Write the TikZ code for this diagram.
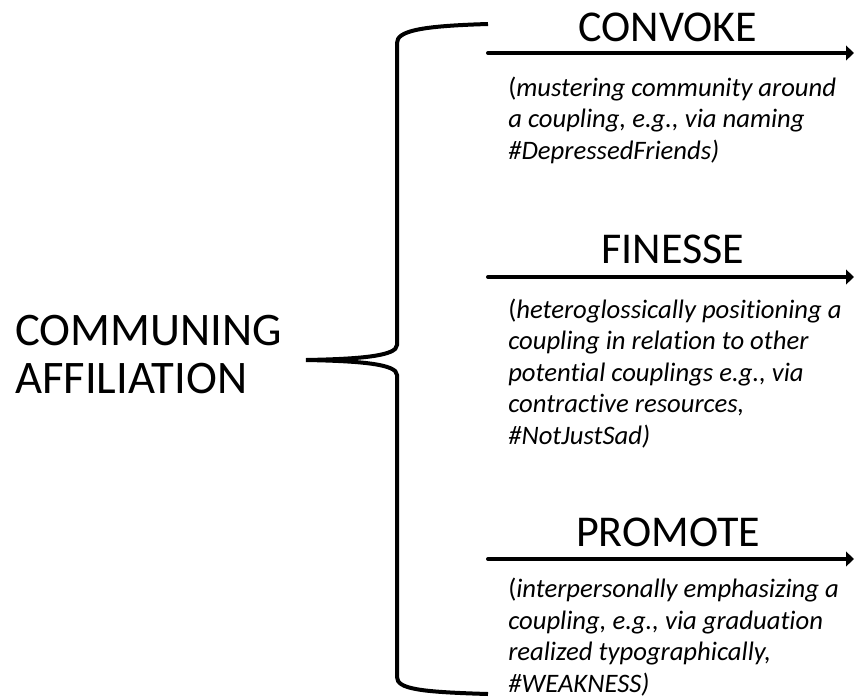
\documentclass[tikz,border=0pt]{standalone}
\usepackage{fontspec}
\setmainfont{Carlito}[Ligatures=NoCommon]
\usetikzlibrary{arrows.meta}

\begin{document}
\begin{tikzpicture}[x=0.75pt,y=-0.75pt,cap=round,>={Triangle[length=6pt,width=11pt]}]
    \tikzset{
        headword/.style={font=\fontsize{33}{40}\selectfont, inner sep=0pt, anchor=base},
        gloss/.style={font=\fontsize{20}{23.6}\selectfont, align=left, inner sep=0pt, anchor=base west},
        choice/.style={->, line width=3pt},
    }
    \useasboundingbox (0,0) rectangle (854,697);

    % the system name
    \node[font=\fontsize{35}{36}\selectfont, align=left, inner sep=0pt, anchor=base west] (affiliation) at (15,393) {COMMUNING\\AFFILIATION};

    % the brace
    \coordinate (tip) at (306,360);
    \coordinate (top) at (488,24);
    \coordinate (bottom) at (488,694);
    \draw[line width=3pt, line cap=butt] (top) .. controls (420,26) and (397,31) .. (397,43)
        -- (397,345) .. controls (397,356) and (360,359) .. (tip)
        .. controls (360,361) and (397,364) .. (397,375)
        -- (397,677) .. controls (397,689) and (420,692) .. (bottom);

    % convoke
    \coordinate (convoke-start) at (488,53);
    \coordinate (convoke-end) at (854,53);
    \draw[choice] (convoke-start) -- (convoke-end);
    \node[headword] (convoke) at (668,41) {CONVOKE};
    \node[gloss] (convoke-gloss) at (508,159) {(\itshape mustering community around\\\itshape a coupling, e.g., via naming\\\itshape \#DepressedFriends)};

    % finesse
    \coordinate (finesse-start) at (488,277);
    \coordinate (finesse-end) at (854,277);
    \draw[choice] (finesse-start) -- (finesse-end);
    \node[headword] (finesse) at (673,263) {FINESSE};
    \node[gloss] (finesse-gloss) at (508,444) {(\itshape heteroglossically positioning a\\\itshape coupling in relation to other\\\itshape potential couplings e.g., via\\\itshape contractive resources,\\\itshape \#NotJustSad)};

    % promote
    \coordinate (promote-start) at (488,559);
    \coordinate (promote-end) at (854,559);
    \draw[choice] (promote-start) -- (promote-end);
    \node[headword] (promote) at (668,546) {PROMOTE};
    \node[gloss] (promote-gloss) at (508,692) {(\itshape interpersonally emphasizing a\\\itshape coupling, e.g., via graduation\\\itshape realized typographically,\\\itshape \#WEAKNESS)};
\end{tikzpicture}
\end{document}
